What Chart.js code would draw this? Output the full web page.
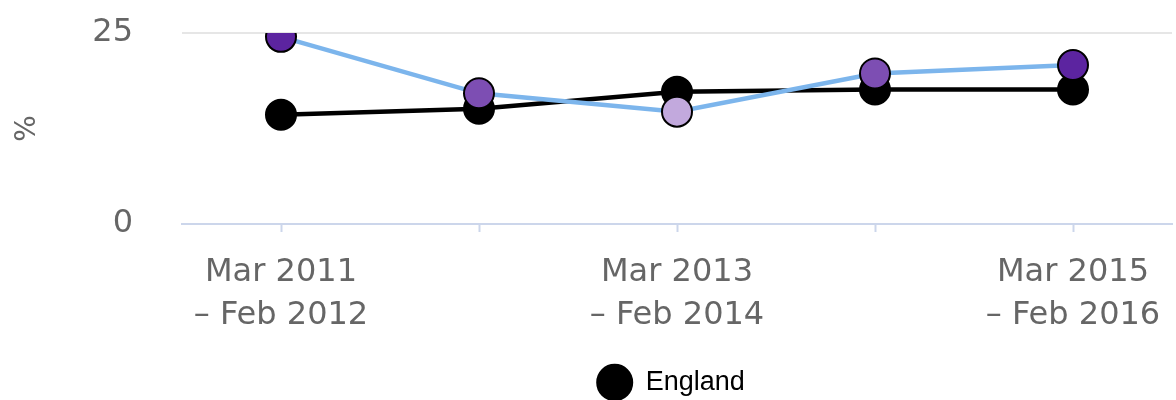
<!DOCTYPE html>
<html>
<head>
<meta charset="utf-8">
<script src="https://cdn.jsdelivr.net/npm/chart.js@4"></script>
<style>
  html, body { margin: 0; padding: 0; background: #fff; }
  #wrap { width: 1176px; height: 400px; }
</style>
</head>
<body>
<div id="wrap"><canvas id="trendChart"></canvas></div>
<script>
// Periods along the x axis
const categories = [
  'Mar 2011 – Feb 2012',
  'Mar 2012 – Feb 2013',
  'Mar 2013 – Feb 2014',
  'Mar 2014 – Feb 2015',
  'Mar 2015 – Feb 2016',
];
// Percentages
const englandValues = [14.3, 15.1, 17.3, 17.6, 17.6];
const areaValues = [24.5, 17.1, 14.7, 19.7, 20.8];
const yTicks = [0, 25];

// Point fills for the local area series (shaded by comparison band)
const areaPointColors = ['#5c24a0', '#7d4eb3', '#c2a9dd', '#7d4eb3', '#5c24a0'];

const axisFont = { family: '"DejaVu Sans", sans-serif', size: 32, lineHeight: 1.35 };

/**
 * Centre the bottom legend under the plot area rather than the whole canvas,
 * and nudge it down a little to sit where the original had it.
 */
const legendUnderPlot = {
  id: 'legendUnderPlot',
  afterLayout(chart) {
    const legend = chart.legend;
    if (!legend) return;
    const area = chart.chartArea;
    legend.left = area.left - 12;
    legend.right = area.right;
    legend.top += 6;
    legend.bottom += 6;
  },
};

const ctx = document.getElementById('trendChart').getContext('2d');

new Chart(ctx, {
  type: 'line',
  data: {
    labels: categories,
    datasets: [
      {
        label: 'Local area',
        data: areaValues,
        borderColor: '#7cb5ec',
        borderWidth: 4.5,
        pointRadius: 15,
        pointBorderWidth: 2,
        pointBorderColor: '#000',
        pointBackgroundColor: areaPointColors,
        tension: 0,
      },
      {
        label: 'England',
        data: englandValues,
        borderColor: '#000',
        borderWidth: 4.5,
        pointRadius: 15,
        pointBorderWidth: 2,
        pointBorderColor: '#000',
        pointBackgroundColor: '#000',
        tension: 0,
      },
    ],
  },
  options: {
    responsive: true,
    maintainAspectRatio: false,
    animation: false,
    layout: {
      autoPadding: false, // big markers may spill past the plot edge
      padding: { top: 33, right: 4, left: 0, bottom: 0 },
    },
    scales: {
      x: {
        offset: true,
        border: { color: '#ccd6eb', width: 2 },
        grid: {
          drawOnChartArea: false,
          drawTicks: true,
          tickLength: 8,
          tickWidth: 2,
          tickColor: '#ccd6eb',
          offset: false,
        },
        ticks: {
          color: '#666',
          font: axisFont,
          padding: 19,
          autoSkip: false,
          maxRotation: 0,
          callback(value, index) {
            if (index % 2) return '';
            const label = this.getLabelForValue(value);
            const cut = label.indexOf(' – ');
            return [label.slice(0, cut), label.slice(cut + 1)];
          },
        },
        afterFit(scale) {
          // labels sit well inside their categories, so no side padding is needed
          scale.height = 129;
          scale.paddingLeft = 0;
          scale.paddingRight = 0;
        },
      },
      y: {
        min: 0,
        max: 25,
        border: { display: false },
        grid: {
          drawTicks: false,
          lineWidth: 2,
          color: c => (c.tick && c.tick.value === 0 ? 'rgba(0,0,0,0)' : '#e6e6e6'),
        },
        afterBuildTicks(scale) {
          scale.ticks = yTicks.map(v => ({ value: v }));
        },
        ticks: {
          color: '#666',
          font: axisFont,
          padding: 49,
        },
        title: {
          display: true,
          text: '%',
          color: '#666',
          font: { family: '"DejaVu Sans", sans-serif', size: 28 },
          padding: { top: 11, bottom: 0 },
        },
        afterFit(scale) {
          // tick padding would otherwise push the plot down
          scale.width = 182;
          scale.paddingTop = 0;
          scale.paddingBottom = 0;
        },
      },
    },
    plugins: {
      legend: {
        position: 'bottom',
        labels: {
          usePointStyle: true,
          pointStyle: 'circle',
          pointStyleWidth: 35,
          boxHeight: 25,
          padding: 10,
          color: '#000',
          font: { family: '"Liberation Sans", Arial, sans-serif', size: 27 },
          filter: item => item.text === 'England',
        },
      },
      tooltip: { enabled: false },
    },
  },
  plugins: [legendUnderPlot],
});
</script>
</body>
</html>
